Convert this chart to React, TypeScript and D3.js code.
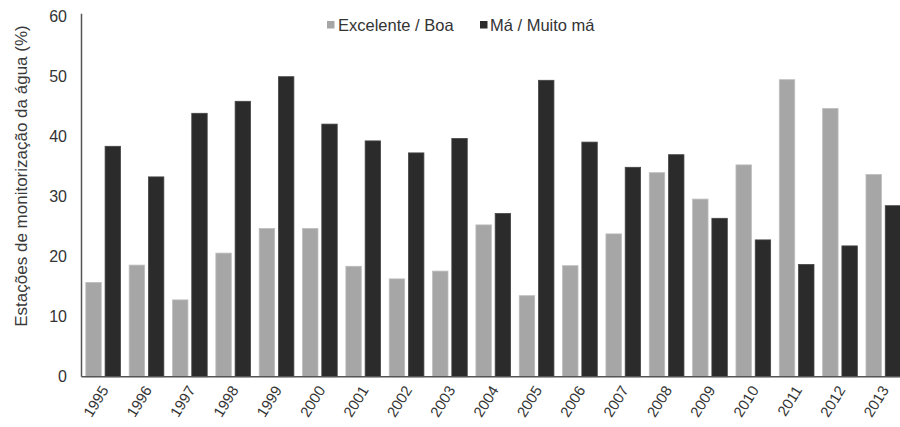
import React from "react";
import * as d3 from "d3";

const years = ["1995","1996","1997","1998","1999","2000","2001","2002","2003","2004","2005","2006","2007","2008","2009","2010","2011","2012","2013"];
const excelenteBoa = [15.7,18.6,12.8,20.6,24.7,24.7,18.4,16.3,17.6,25.3,13.5,18.5,23.8,34.0,29.6,35.3,49.5,44.7,33.7];
const maMuitoMa = [38.4,33.3,43.9,45.9,50.0,42.1,39.3,37.3,39.7,27.2,49.4,39.1,34.9,37.0,26.4,22.8,18.7,21.8,28.5];
const seriesNames = ["Excelente / Boa", "Má / Muito má"];
const seriesColors = ["#a6a6a6", "#2b2b2b"];
const yTicks = [0, 10, 20, 30, 40, 50, 60];
const yLabel = "Estações de monitorização da água (%)";

export default function App() {
  const W = 900, H = 427;
  const x0 = d3.scaleBand<string>().domain(years).range([81.5, 905]).paddingInner(0.2).paddingOuter(0.1);
  const x1 = d3.scaleBand<number>().domain([0, 1]).range([0, x0.bandwidth()]).paddingInner(0.2).paddingOuter(0);
  const y = d3.scaleLinear().domain([0, 60]).range([376.7, 16.7]);
  const series = [excelenteBoa, maMuitoMa];
  const font = "'Liberation Sans', Arial, sans-serif";

  return (
    <svg width={W} height={H} style={{ position: "absolute", left: 0, top: 0, background: "#fff" }} fontFamily={font}>
      <rect x={0} y={0} width={W} height={H} fill="#fff" />
      {years.map((yr, i) => (
        <g key={yr}>
          {series.map((s, k) => (
            <rect
              key={k}
              x={(x0(yr) as number) + (x1(k) as number)}
              y={y(s[i])}
              width={x1.bandwidth()}
              height={y(0) - y(s[i])}
              fill={seriesColors[k]}
              stroke={k === 0 ? "#bdbdbd" : "#444"}
              strokeWidth={0.8}
            />
          ))}
        </g>
      ))}
      {/* axes */}
      <line x1={81.5} x2={900} y1={y(0)} y2={y(0)} stroke="#555" strokeWidth={1.5} />
      <line x1={81.5} x2={81.5} y1={y(60) - 3} y2={y(0)} stroke="#555" strokeWidth={1.5} />
      {yTicks.map((t) => (
        <text key={t} x={67} y={y(t)} dy="0.35em" textAnchor="end" fontSize={16} fill="#333">
          {t}
        </text>
      ))}
      {years.map((yr) => {
        const cx = (x0(yr) as number) + x0.bandwidth() / 2 + 6;
        const cy = 390;
        return (
          <text key={yr} x={cx} y={cy} textAnchor="end" fontSize={15} fill="#333" transform={`rotate(-58, ${cx}, ${cy})`}>
            {yr}
          </text>
        );
      })}
      <text transform={`translate(27, 176) rotate(-90)`} textAnchor="middle" fontSize={17} fill="#3a3a3a">
        {yLabel}
      </text>
      {/* legend */}
      <rect x={327} y={21} width={7.5} height={7.5} fill={seriesColors[0]} />
      <text x={338} y={31} fontSize={16.5} fill="#333">{seriesNames[0]}</text>
      <rect x={480} y={21} width={7.5} height={7.5} fill={seriesColors[1]} />
      <text x={490} y={31} fontSize={16.5} fill="#333">{seriesNames[1]}</text>
    </svg>
  );
}
